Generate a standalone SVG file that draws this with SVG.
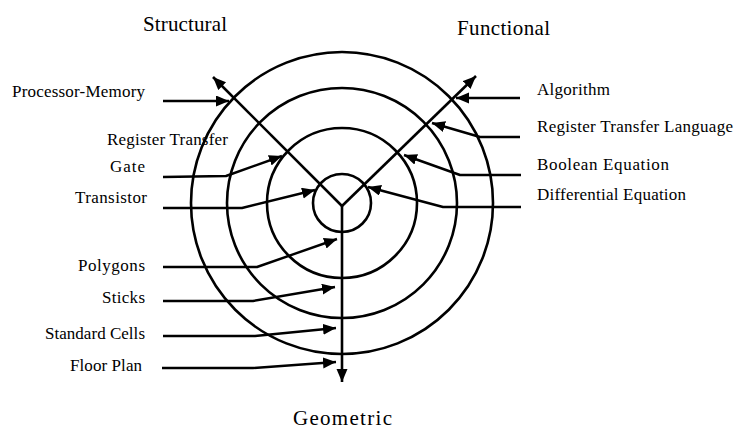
<svg xmlns="http://www.w3.org/2000/svg" width="736" height="430" viewBox="0 0 736 430">
<style>
.ring{fill:none;stroke:#000;stroke-width:2.6}
.ax{fill:none;stroke:#000;stroke-width:2.6;marker-end:url(#ah)}
.c{fill:none;stroke:#000;stroke-width:2.4;stroke-linejoin:round;marker-end:url(#ah)}
text{font-family:"Liberation Serif","Times New Roman",serif;fill:#000}
.lbl{font-size:17px}
.hd{font-size:21px}
.l{text-anchor:end}
</style>
<defs>
<marker id="ah" markerUnits="userSpaceOnUse" markerWidth="15" markerHeight="12" refX="13" refY="5.5" orient="auto">
<path d="M0,0 L13,5.5 L0,11 z" fill="#000"/>
</marker>
</defs>
<rect width="736" height="430" fill="#fff"/>
<g id="rings">
<circle id="ring-outer" class="ring" cx="342" cy="203" r="151"/>
<circle id="ring-3" class="ring" cx="342" cy="203" r="115"/>
<circle id="ring-2" class="ring" cx="342" cy="203" r="75"/>
<circle id="ring-inner" class="ring" cx="342" cy="203" r="29"/>
</g>
<g id="connectors">
<path class="ax" d="M342,206 L213,77"/>
<path class="ax" d="M342,206 L476,76"/>
<path class="ax" d="M342,206 L342,382"/>
<path class="c" d="M163,101 L229,101"/>
<path class="c" d="M163,177 L226,176 L282,156"/>
<path class="c" d="M163,208 L242,208 L315,190"/>
<path class="c" d="M163,267 L257,267 L337,239"/>
<path class="c" d="M163,301 L253,301 L335,287"/>
<path class="c" d="M163,336 L255,336 L336,328"/>
<path class="c" d="M162,368 L253,368 L336,362"/>
<path class="c" d="M520,98 L456,98"/>
<path class="c" d="M520,137 L480,137 L432,123"/>
<path class="c" d="M521,175 L460,175 L404,155"/>
<path class="c" d="M521,207 L443,207 L368,187"/>
</g>
<g id="headings">
<text id="h-structural" class="hd" x="143" y="31" textLength="84">Structural</text>
<text id="h-functional" class="hd" x="457" y="35" textLength="93">Functional</text>
<text id="h-geometric" class="hd" x="293" y="425" textLength="99">Geometric</text>
</g>
<g id="structural-labels">
<text id="n-pm" class="lbl l" x="145" y="97" textLength="133">Processor-Memory</text>
<text id="n-rt" class="lbl l" x="228" y="145" textLength="121">Register Transfer</text>
<text id="n-gate" class="lbl l" x="145" y="172" textLength="35">Gate</text>
<text id="n-tr" class="lbl l" x="147" y="203" textLength="72">Transistor</text>
</g>
<g id="geometric-labels">
<text id="n-poly" class="lbl l" x="145" y="271" textLength="67">Polygons</text>
<text id="n-sticks" class="lbl l" x="145" y="303" textLength="43">Sticks</text>
<text id="n-sc" class="lbl l" x="145" y="339" textLength="100">Standard Cells</text>
<text id="n-fp" class="lbl l" x="142" y="371" textLength="72">Floor Plan</text>
</g>
<g id="functional-labels">
<text id="n-alg" class="lbl" x="537" y="95" textLength="73">Algorithm</text>
<text id="n-rtl" class="lbl" x="537" y="132" textLength="196">Register Transfer Language</text>
<text id="n-be" class="lbl" x="537" y="170" textLength="132">Boolean Equation</text>
<text id="n-de" class="lbl" x="537" y="200" textLength="149">Differential Equation</text>
</g>
</svg>
